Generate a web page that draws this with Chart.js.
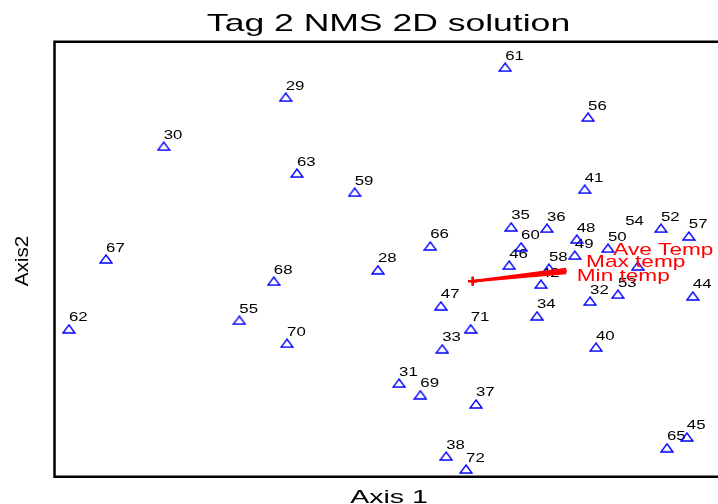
<!DOCTYPE html>
<html><head><meta charset="utf-8">
<script src="https://cdn.jsdelivr.net/npm/chart.js@4/dist/chart.umd.min.js"></script>
<style>html,body{margin:0;padding:0;background:#fff;overflow:hidden}canvas{display:block}</style>
</head><body>
<canvas id="c" width="718" height="504"></canvas>
<script>
// ---- data (NMS site scores; axis units arbitrary 0-100) ----
const siteIds = ["61","29","56","30","63","41","59","35","36","52","57","60","66","48","49","50","67","46","58","","28","68","42","53","44","32","47","55","34","62","71","70","40","33","31","69","37","45","65","38","72","54"];
const axis1   = [67.9,34.8,80.4,16.4,36.5,79.9,45.2,68.8,74.2,91.4,95.6,70.3,56.6,78.7,78.4,83.4,7.7,68.5,74.5,87.9,48.7,33.0,73.3,84.9,96.2,80.7,58.2,27.8,72.7,2.1,62.7,35.0,81.6,58.4,51.9,55.1,63.5,95.3,92.3,59.0,62.0,86.0];
const axis2   = [94.2,87.3,82.7,76.0,69.8,66.1,65.4,57.4,57.1,57.1,55.3,52.8,53.0,54.6,50.9,52.5,50.0,48.6,47.9,48.4,47.5,44.9,44.2,41.9,41.5,40.3,39.2,35.9,36.9,33.9,33.9,30.6,29.7,29.3,21.4,18.7,16.6,9.0,6.5,4.6,1.6,56.0];
const noMarker = ["54"];

const vectorNames = ["Ave Temp","Max temp","Min temp"];
const vectorOriginX = 63.0, vectorOriginY = 44.9;
const vectorEndX = [77.1,77.2,77.1];
const vectorEndY = [47.7,47.2,46.8];
const vectorLabelX = [84.2,80.1,78.7];
const vectorLabelY = [50.9,48.2,44.9];

const titleText = "Tag 2 NMS 2D solution";
const xTitle = "Axis 1";
const yTitle = "Axis2";

// ---- marker ----
const tri = document.createElement('canvas');
tri.width = 14; tri.height = 10;
(function(){
  const t = tri.getContext('2d');
  t.strokeStyle = '#0000ff'; t.lineWidth = 1.4;
  t.beginPath(); t.moveTo(7,1); t.lineTo(13,9); t.lineTo(1,9); t.closePath(); t.stroke();
})();

function sText(ctx, str, x, y, font, sx, align, color){
  ctx.save();
  ctx.font = font; ctx.fillStyle = color; ctx.textBaseline = 'alphabetic'; ctx.textAlign = 'left';
  ctx.translate(x, y); ctx.scale(sx, 1);
  const w = ctx.measureText(str).width;
  ctx.fillText(str, align === 'center' ? -w/2 : 0, 0);
  ctx.restore();
}

const FONT = '"Liberation Sans", Arial, sans-serif';

const decor = {
  id: 'decor',
  beforeDatasetsDraw(chart){
    const ctx = chart.ctx, xs = chart.scales.x, ys = chart.scales.y;
    for (let i = 0; i < siteIds.length; i++){
      if (!siteIds[i]) continue;
      const px = xs.getPixelForValue(axis1[i]), py = ys.getPixelForValue(axis2[i]);
      sText(ctx, siteIds[i], px, py - 7.5, '12px ' + FONT, 1.4, 'left', '#000');
    }
  },
  afterDatasetsDraw(chart){
    const ctx = chart.ctx, xs = chart.scales.x, ys = chart.scales.y, a = chart.chartArea;
    for (let i = 0; i < vectorNames.length; i++){
      sText(ctx, vectorNames[i], xs.getPixelForValue(vectorLabelX[i]), ys.getPixelForValue(vectorLabelY[i]),
            '17px ' + FONT, 1.33, 'left', '#ff0000');
    }
    // frame (left, top, bottom)
    ctx.save();
    ctx.strokeStyle = '#000'; ctx.lineWidth = 2.5;
    ctx.beginPath();
    ctx.moveTo(a.right + 2, a.top - 0.3); ctx.lineTo(a.left - 0.5, a.top - 0.3);
    ctx.lineTo(a.left - 0.5, a.bottom + 0.7); ctx.lineTo(a.right + 2, a.bottom + 0.7);
    ctx.stroke();
    ctx.restore();
    // titles
    sText(ctx, titleText, 388.5, 31, '24px ' + FONT, 1.48, 'center', '#000');
    sText(ctx, xTitle, 389, 503, '19px ' + FONT, 1.5, 'center', '#000');
    ctx.save();
    ctx.translate(28, 261); ctx.rotate(-Math.PI/2);
    sText(ctx, yTitle, 0, 0, '18px ' + FONT, 1.15, 'center', '#000');
    ctx.restore();
  }
};

const datasets = vectorNames.map((n, i) => ({
  label: n,
  data: [{x: vectorOriginX, y: vectorOriginY}, {x: vectorEndX[i], y: vectorEndY[i]}],
  showLine: true,
  borderColor: '#ff0000',
  borderWidth: 2.5,
  pointStyle: 'cross',
  pointRadius: [4.5, 0],
  pointBorderColor: '#ff0000',
  pointBorderWidth: 2,
  clip: false
}));
datasets.push({
  label: 'sites',
  data: siteIds.map((id, i) => ({x: axis1[i], y: axis2[i]})),
  pointStyle: tri,
  pointRadius: ctx => noMarker.includes(siteIds[ctx.dataIndex]) ? 0 : 5,
  showLine: false,
  clip: false
});

new Chart(document.getElementById('c'), {
  type: 'scatter',
  data: { datasets },
  options: {
    responsive: false,
    animation: false,
    devicePixelRatio: 1,
    layout: { autoPadding: false, padding: { left: 55, top: 42, right: 0, bottom: 28 } },
    plugins: { legend: { display: false }, tooltip: { enabled: false }, title: { display: false } },
    scales: {
      x: { type: 'linear', display: false, min: 0, max: 100 },
      y: { type: 'linear', display: false, min: 0, max: 100 }
    }
  },
  plugins: [decor]
});
</script>
</body></html>
